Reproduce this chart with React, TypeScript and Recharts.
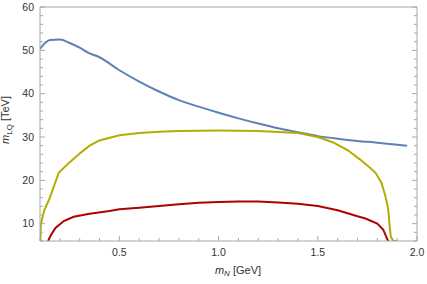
import React from 'react';
import { LineChart, Line, XAxis, YAxis } from 'recharts';

// blue curve
const mNBlue = [0.1, 0.125, 0.15, 0.2, 0.25, 0.3, 0.35, 0.4, 0.5, 0.6, 0.7, 0.8, 0.9, 1.0, 1.1, 1.2, 1.3, 1.4, 1.5, 1.6, 1.7, 1.8, 1.95];
const mLQBlue = [50.3, 51.7, 52.4, 52.5, 51.7, 50.6, 49.3, 48.4, 45.4, 42.8, 40.5, 38.5, 37.0, 35.6, 34.3, 33.1, 32.0, 31.1, 30.2, 29.6, 29.1, 28.7, 28.0];

// yellow curve
const mNYellow = [0.102, 0.104, 0.12, 0.15, 0.195, 0.25, 0.3, 0.35, 0.4, 0.5, 0.6, 0.7, 0.8, 1.0, 1.2, 1.4, 1.5, 1.575, 1.65, 1.71, 1.76, 1.79, 1.82, 1.84, 1.855, 1.862, 1.868, 1.88, 1.9];
const mLQYellow = [6.0, 9.8, 12.9, 16.0, 21.8, 24.2, 26.2, 28.0, 29.2, 30.4, 30.9, 31.2, 31.4, 31.5, 31.4, 30.9, 30.0, 28.8, 27.0, 24.9, 23.0, 21.8, 19.5, 16.5, 13.3, 9.5, 7.0, 6.05, 6.0];

// red curve
const mNRed = [0.14, 0.153, 0.178, 0.22, 0.27, 0.35, 0.45, 0.5, 0.6, 0.7, 0.8, 0.9, 1.0, 1.1, 1.2, 1.3, 1.4, 1.5, 1.6, 1.65, 1.7, 1.74, 1.8, 1.83, 1.855];
const mLQRed = [5.9, 7.2, 9.0, 10.6, 11.6, 12.3, 12.9, 13.3, 13.7, 14.1, 14.5, 14.8, 15.0, 15.1, 15.1, 14.9, 14.6, 14.1, 13.1, 12.4, 11.7, 11.2, 10.0, 8.6, 5.9];

const xTicks = [0.1, 0.2, 0.3, 0.4, 0.5, 0.6, 0.7, 0.8, 0.9, 1.0, 1.1, 1.2, 1.3, 1.4, 1.5, 1.6, 1.7, 1.8, 1.9, 2.0];
const yTicks = [6, 8, 10, 12, 14, 16, 18, 20, 22, 24, 26, 28, 30, 32, 34, 36, 38, 40, 42, 44, 46, 48, 50, 52, 54, 56, 58, 60];

const toPoints = (xs: number[], ys: number[]) => xs.map((x, i) => ({ x, y: ys[i] }));

const FRAME = '#a6a6a6';
const TEXT = '#333';
const FONT = '"Liberation Sans", Arial, sans-serif';

const isMajorX = (v: number) => Math.abs(v * 2 - Math.round(v * 2)) < 1e-6;
const isMajorY = (v: number) => v % 10 === 0;

const BottomTick = (props: any) => {
  const { x, y, payload } = props;
  const major = isMajorX(payload.value);
  return (
    <g>
      <line x1={x} x2={x} y1={y} y2={y - (major ? 5 : 3)} stroke={FRAME} />
      {major && (
        <text x={x} y={y + 14.5} textAnchor="middle" fontSize={10.5} fill={TEXT} fontFamily={FONT}>
          {payload.value.toFixed(1)}
        </text>
      )}
    </g>
  );
};

const TopTick = (props: any) => {
  const { x, y, payload } = props;
  const major = isMajorX(payload.value);
  return <line x1={x} x2={x} y1={y} y2={y + (major ? 5 : 3)} stroke={FRAME} />;
};

const LeftTick = (props: any) => {
  const { x, y, payload } = props;
  const major = isMajorY(payload.value);
  return (
    <g>
      <line x1={x} x2={x + (major ? 5 : 3)} y1={y} y2={y} stroke={FRAME} />
      {major && (
        <text x={x - 6} y={y + 3.8} textAnchor="end" fontSize={10.5} fill={TEXT} fontFamily={FONT}>
          {payload.value}
        </text>
      )}
    </g>
  );
};

const RightTick = (props: any) => {
  const { x, y, payload } = props;
  const major = isMajorY(payload.value);
  return <line x1={x} x2={x - (major ? 5 : 3)} y1={y} y2={y} stroke={FRAME} />;
};

export default function App() {
  return (
    <div style={{ position: 'absolute', left: 0, top: 0, width: 427, height: 284, background: '#fff' }}>
      <LineChart width={427} height={284} margin={{ top: 6, right: 9, bottom: 42, left: 39 }}>
        <XAxis
          dataKey="x"
          type="number"
          domain={[0.1, 2]}
          allowDataOverflow
          ticks={xTicks}
          interval={0}
          height={1}
          tickSize={0}
          tickMargin={0}
          tickLine={false}
          axisLine={{ stroke: FRAME }}
          tick={<BottomTick />}
        />
        <XAxis
          xAxisId="top"
          orientation="top"
          type="number"
          domain={[0.1, 2]}
          allowDataOverflow
          ticks={xTicks}
          interval={0}
          height={1}
          tickSize={0}
          tickMargin={0}
          tickLine={false}
          axisLine={{ stroke: FRAME }}
          tick={<TopTick />}
        />
        <YAxis
          type="number"
          domain={[6, 60]}
          allowDataOverflow
          ticks={yTicks}
          interval={0}
          width={1}
          tickSize={0}
          tickMargin={0}
          tickLine={false}
          axisLine={{ stroke: FRAME }}
          tick={<LeftTick />}
        />
        <YAxis
          yAxisId="right"
          orientation="right"
          type="number"
          domain={[6, 60]}
          allowDataOverflow
          ticks={yTicks}
          interval={0}
          width={1}
          tickSize={0}
          tickMargin={0}
          tickLine={false}
          axisLine={{ stroke: FRAME }}
          tick={<RightTick />}
        />
        <Line data={toPoints(mNBlue, mLQBlue)} dataKey="y" stroke="#5e81b5" strokeWidth={2} dot={false} type="monotone" isAnimationActive={false} />
        <Line data={toPoints(mNYellow, mLQYellow)} dataKey="y" stroke="#b3ad00" strokeWidth={2} dot={false} type="linear" isAnimationActive={false} />
        <Line data={toPoints(mNRed, mLQRed)} dataKey="y" stroke="#b00000" strokeWidth={2} dot={false} type="linear" isAnimationActive={false} />
      </LineChart>
      <svg width={427} height={284} style={{ position: 'absolute', left: 0, top: 0, pointerEvents: 'none' }}>
        <text x={238} y={273.5} textAnchor="middle" fontSize={11} fill={TEXT} fontFamily={FONT}>
          <tspan fontStyle="italic">m</tspan>
          <tspan fontStyle="italic" fontSize={8} dy={2.5}>N</tspan>
          <tspan dy={-2.5}> [GeV]</tspan>
        </text>
        <text x={9} y={120} transform="rotate(-90 9 120)" textAnchor="middle" fontSize={11} fill={TEXT} fontFamily={FONT}>
          <tspan fontStyle="italic">m</tspan>
          <tspan fontSize={8} dy={2.5}>LQ</tspan>
          <tspan dy={-2.5}> [TeV]</tspan>
        </text>
      </svg>
    </div>
  );
}
